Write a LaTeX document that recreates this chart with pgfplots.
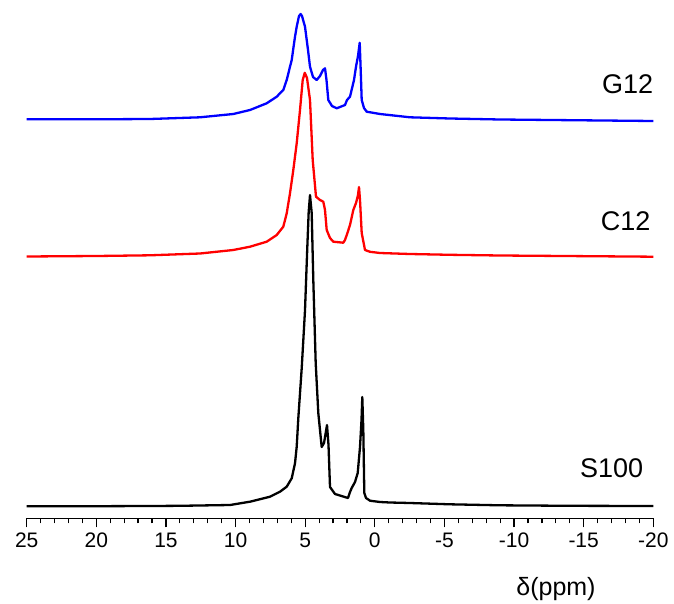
\documentclass[border=0pt]{standalone}
\usepackage{pgfplots}
\pgfplotsset{compat=1.18}
\usepackage{fontspec}
\setmainfont{Liberation Sans}
\begin{document}
\begin{tikzpicture}
\path[use as bounding box] (-26.7pt,-84.7pt) rectangle (647.3pt,518.3pt);
\begin{axis}[
  at={(0pt,0pt)}, anchor=south west,
  scale only axis,
  width=626.6pt, height=518.3pt,
  xmin=-20, xmax=25, ymin=0, ymax=518.3,
  x dir=reverse,
  axis x line*=bottom,
  axis y line=none,
  axis line style={line width=1.5pt},
  xtick={-20,-15,...,25},
  minor xtick={-19,-18,...,24},
  tick align=outside,
  major tick length=9pt,
  minor tick length=5pt,
  every tick/.style={line width=1.2pt, black},
  /pgf/number format/assume math mode=true,
  xticklabel style={font=\fontsize{21}{25}\selectfont, yshift=-2pt},
  clip=false,
  every axis plot/.append style={line width=2.3pt, line join=round, mark=none},
]
% S100 (black)
\addplot[black] coordinates {
(25.0,12.0) (20.0,12.1) (16.145,12.3) (13.99,12.5) (10.40,13.3) (8.963,16.6) (7.527,21.6)
(6.808,26.6) (6.327,31.6) (5.968,40.0) (5.731,55.0) (5.609,71.6) (5.494,100.0)
(5.372,125.0) (5.250,150.0) (5.135,178.0) (5.013,208.0) (4.848,271.0) (4.750,306.0) (4.654,323.3) (4.532,305.3)
(4.417,238.3) (4.245,155.3) (4.058,105.3) (3.814,71.3) (3.648,75.3) (3.433,93.3)
(3.325,73.3) (3.218,31.3) (2.858,24.3) (1.925,20.3) (1.781,26.3) (1.659,30.3)
(1.422,36.3) (1.228,45.3) (1.063,71.3) (0.955,98.3) (0.898,121.3) (0.826,88.3)
(0.754,25.3) (0.632,20.3) (0.345,17.6) (-0.373,16.3) (-1.09,15.8) (-2.528,15.3) (-5.40,14.0)
(-8.992,13.0) (-14.0,12.5) (-20.0,12.3)
};
% C12 (red)
\addplot[red] coordinates {
(25.0,261.8) (20.0,262.3) (16.145,263.0) (12.554,264.8) (10.163,268.3) (8.963,271.6)
(7.764,276.6) (7.046,283.3) (6.571,291.6) (6.327,305.0) (6.090,325.0) (5.853,348.3)
(5.609,375.0) (5.372,408.3) (5.178,438.3) (5.030,445.5) (4.869,440.3)
(4.654,418.3) (4.460,358.3) (4.223,321.6) (3.936,318.3) (3.699,316.6) (3.577,308.3)
(3.455,288.3) (3.218,280.3) (2.981,276.6) (2.262,275.6) (2.140,278.3) (1.975,285.0)
(1.781,293.3) (1.544,308.3) (1.350,315.3) (1.207,323.3) (1.135,331.3) (1.063,318.3)
(0.941,285.3) (0.704,268.3) (0.345,266.5) (-0.373,265.3) (-2.528,264.3) (-5.40,263.5) (-8.992,262.8) (-20.0,261.6)
};
% G12 (blue)
\addplot[blue] coordinates {
(25.0,399.0) (20.0,399.0) (16.145,399.3) (12.554,401.0) (10.163,404.3) (8.963,408.3)
(7.764,415.0) (7.046,421.6) (6.571,428.3) (6.327,438.3) (6.090,451.6) (5.968,458.3)
(5.731,481.6) (5.609,491.6) (5.444,502.3)
(5.322,504.3) (5.229,502.3) (5.013,491.6) (4.797,468.3) (4.654,451.6) (4.438,441.3)
(4.173,438.3) (3.936,442.3) (3.720,448.3) (3.577,450.0) (3.469,438.3) (3.340,418.3)
(3.074,412.3) (2.736,410.0) (2.140,413.3) (1.997,418.3) (1.781,421.6) (1.494,438.3)
(1.350,451.6) (1.207,462.3) (1.084,475.6) (1.013,448.3) (0.941,418.3) (0.776,410.3)
(0.582,406.6) (-0.373,404.3) (-2.528,401.0) (-5.40,399.8) (-8.992,398.8) (-20.0,397.3)
};
\node[anchor=base east, inner sep=0pt, font=\fontsize{27}{30}\selectfont] at (axis cs:-20.0,425) {G12};
\node[anchor=base east, inner sep=0pt, font=\fontsize{27}{30}\selectfont] at (axis cs:-19.815,287.6) {C12};
\node[anchor=base east, inner sep=0pt, font=\fontsize{27}{30}\selectfont] at (axis cs:-19.284,40.6) {S100};
\node[anchor=base, inner sep=0pt, font=\fontsize{25}{28}\selectfont] at (axis cs:-13.01,-76.7) {δ(ppm)};
\end{axis}
\end{tikzpicture}
\end{document}
